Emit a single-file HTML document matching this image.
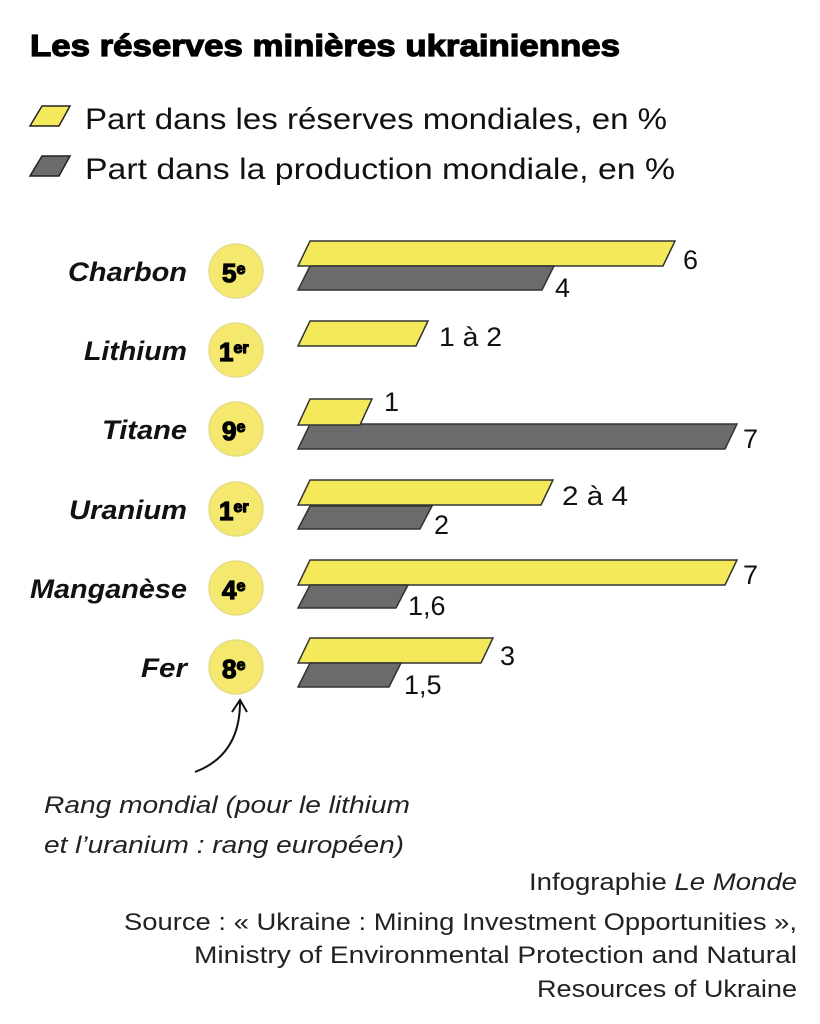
<!DOCTYPE html>
<html><head><meta charset="utf-8"><style>
body{margin:0;background:#fff;}
svg{display:block;font-family:"Liberation Sans",sans-serif;}
</style></head><body>
<svg width="820" height="1024" viewBox="0 0 820 1024">
<text x="30" y="56" font-size="31" font-weight="bold" stroke="#000" stroke-width="1.2" textLength="590" lengthAdjust="spacingAndGlyphs">Les réserves minières ukrainiennes</text>
<polygon points="42,106 70,106 59,126 30,126" fill="#f4e95a" stroke="#222" stroke-width="1.5"/>
<text x="85" y="129" font-size="30" fill="#111" textLength="582" lengthAdjust="spacingAndGlyphs">Part dans les réserves mondiales, en %</text>
<polygon points="42,156 70,156 59,176 30,176" fill="#6b6b6b" stroke="#222" stroke-width="1.5"/>
<text x="85" y="179" font-size="30" fill="#111" textLength="590" lengthAdjust="spacingAndGlyphs">Part dans la production mondiale, en %</text>

<g stroke="#333" stroke-width="1.5">
<polygon points="310,241 675,241 663,266 298,266" fill="#f4e95a"/>
<polygon points="310,266 554,266 542,290 298,290" fill="#6b6b6b"/>
<polygon points="310,321 428,321 416,346 298,346" fill="#f4e95a"/>
<polygon points="310,424 737,424 725,449 298,449" fill="#6b6b6b"/>
<polygon points="310,399 372,399 360,425 298,425" fill="#f4e95a"/>
<polygon points="310,480 553,480 541,505 298,505" fill="#f4e95a"/>
<polygon points="310,506 432,506 420,529 298,529" fill="#6b6b6b"/>
<polygon points="310,560 737,560 725,585 298,585" fill="#f4e95a"/>
<polygon points="310,585 408,585 396,608 298,608" fill="#6b6b6b"/>
<polygon points="310,638 493,638 481,663 298,663" fill="#f4e95a"/>
<polygon points="310,663 401,663 389,687 298,687" fill="#6b6b6b"/>
</g>

<g font-size="27" fill="#111">
<text x="683" y="269">6</text>
<text x="555" y="297">4</text>
<text x="439" y="346" textLength="63" lengthAdjust="spacingAndGlyphs">1 à 2</text>
<text x="384" y="411">1</text>
<text x="743" y="448">7</text>
<text x="562" y="505" textLength="66" lengthAdjust="spacingAndGlyphs">2 à 4</text>
<text x="434" y="534">2</text>
<text x="743" y="584">7</text>
<text x="408" y="615">1,6</text>
<text x="500" y="665">3</text>
<text x="404" y="694">1,5</text>
</g>

<g font-size="27" font-weight="bold" font-style="italic" fill="#111">
<text x="68" y="281" textLength="119" lengthAdjust="spacingAndGlyphs">Charbon</text>
<text x="84" y="360" textLength="103" lengthAdjust="spacingAndGlyphs">Lithium</text>
<text x="102" y="439" textLength="85" lengthAdjust="spacingAndGlyphs">Titane</text>
<text x="69" y="519" textLength="118" lengthAdjust="spacingAndGlyphs">Uranium</text>
<text x="30" y="598" textLength="157" lengthAdjust="spacingAndGlyphs">Manganèse</text>
<text x="141" y="677" textLength="46" lengthAdjust="spacingAndGlyphs">Fer</text>
</g>

<g fill="#f4e96e" stroke="#e6dc8a" stroke-width="1.5">
<circle cx="236" cy="271" r="27"/><circle cx="236" cy="350" r="27"/><circle cx="236" cy="429" r="27"/>
<circle cx="236" cy="509" r="27"/><circle cx="236" cy="588" r="27"/><circle cx="236" cy="667" r="27"/>
</g>
<g font-weight="bold" fill="#000" stroke="#000" stroke-width="1.2">
<text x="222" y="282" font-size="26">5<tspan font-size="16" dy="-8">e</tspan></text>
<text x="219" y="361" font-size="26">1<tspan font-size="16" dy="-8">er</tspan></text>
<text x="222" y="440" font-size="26">9<tspan font-size="16" dy="-8">e</tspan></text>
<text x="219" y="520" font-size="26">1<tspan font-size="16" dy="-8">er</tspan></text>
<text x="222" y="599" font-size="26">4<tspan font-size="16" dy="-8">e</tspan></text>
<text x="222" y="678" font-size="26">8<tspan font-size="16" dy="-8">e</tspan></text>
</g>

<path d="M195,772 Q240,755 240,702" fill="none" stroke="#111" stroke-width="2"/>
<path d="M232,712 L240,700 L247,712" fill="none" stroke="#111" stroke-width="2"/>

<g font-size="24" font-style="italic" fill="#222">
<text x="44" y="813" textLength="366" lengthAdjust="spacingAndGlyphs">Rang mondial (pour le lithium</text>
<text x="44" y="853" textLength="360" lengthAdjust="spacingAndGlyphs">et l’uranium : rang européen)</text>
</g>
<g font-size="24" fill="#222">
<text x="529" y="890" textLength="268" lengthAdjust="spacingAndGlyphs">Infographie <tspan font-style="italic">Le Monde</tspan></text>
<text x="124" y="930" textLength="673" lengthAdjust="spacingAndGlyphs">Source : « Ukraine : Mining Investment Opportunities »,</text>
<text x="194" y="963" textLength="603" lengthAdjust="spacingAndGlyphs">Ministry of Environmental Protection and Natural</text>
<text x="537" y="997" textLength="260" lengthAdjust="spacingAndGlyphs">Resources of Ukraine</text>
</g>
</svg>
</body></html>
